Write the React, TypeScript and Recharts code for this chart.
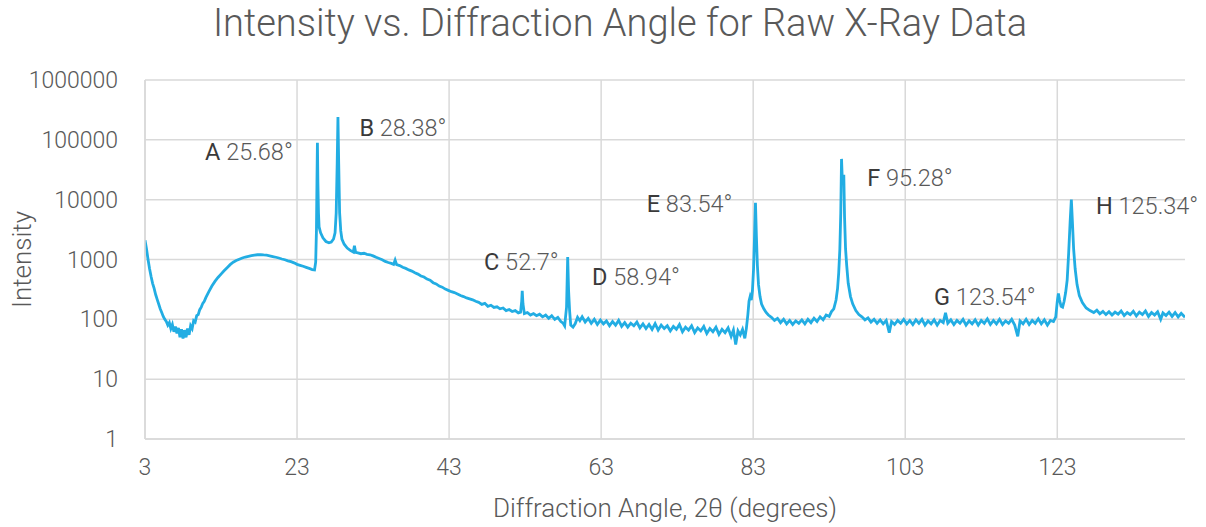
import { LineChart, Line, XAxis, YAxis, CartesianGrid, ReferenceDot } from 'recharts';

// 2θ (deg), counts
const lowAngle: [number, number][] = [
  [3.0, 2100], [3.2, 1500], [3.4, 1000], [3.6, 700], [3.8, 520], [4.0, 400], [4.2, 330], [4.4, 260],
  [4.6, 215], [4.8, 180], [5.0, 150], [5.2, 130], [5.4, 112], [5.6, 100], [5.8, 92], [6.0, 80],
  [6.2, 88], [6.4, 70], [6.6, 82], [6.8, 62], [7.0, 76], [7.2, 58], [7.4, 72], [7.6, 50],
  [7.8, 68], [8.0, 48], [8.2, 66], [8.4, 50], [8.6, 70], [8.8, 55], [9.0, 78], [9.2, 70],
  [9.4, 95], [9.6, 90], [9.8, 115], [10.0, 120], [10.2, 145], [10.4, 160], [10.6, 185], [10.8, 200],
  [11.0, 230], [11.4, 290], [11.8, 360], [12.2, 430], [12.6, 500], [13.0, 570], [13.4, 650], [13.8, 730],
  [14.2, 820], [14.6, 900], [15.0, 960], [15.4, 1010], [15.8, 1060], [16.2, 1100], [16.6, 1130], [17.0, 1160],
  [17.4, 1180], [17.8, 1200], [18.2, 1210], [18.6, 1190], [19.0, 1180], [19.4, 1150], [19.8, 1120], [20.2, 1090],
  [20.6, 1060], [21.0, 1020], [21.4, 990], [21.8, 950], [22.2, 920], [22.6, 880], [23.0, 830], [23.4, 800],
  [23.8, 770], [24.2, 740], [24.6, 710], [25.0, 680], [25.3, 670],
];

const peaksAB: [number, number][] = [
  [25.45, 900], [25.55, 3000], [25.62, 20000], [25.68, 89000], [25.74, 20000], [25.82, 6000],
  [25.9, 3500], [26.1, 2800], [26.4, 2300], [26.8, 2000], [27.2, 1900], [27.5, 1950], [27.8, 2200],
  [28.0, 2800], [28.15, 6000], [28.28, 40000], [28.38, 240000], [28.48, 40000], [28.6, 6000],
  [28.75, 3000], [28.9, 2200], [29.2, 1800], [29.6, 1550], [30.0, 1420], [30.4, 1330], [30.55, 1700],
  [30.7, 1320], [31.0, 1290],
];

const midRange: [number, number][] = [
  [31.4, 1250], [31.8, 1270], [32.2, 1220], [32.6, 1200], [33.0, 1150], [33.4, 1090], [33.8, 1040],
  [34.2, 990], [34.6, 930], [35.0, 890], [35.4, 860], [35.7, 830], [35.9, 980], [36.1, 820], [36.5, 790],
  [36.9, 740], [37.3, 710], [37.7, 670], [38.1, 640], [38.5, 600], [38.9, 570], [39.3, 530], [39.7, 510],
  [40.1, 470], [40.5, 450], [40.9, 410], [41.3, 390], [41.7, 360], [42.1, 345], [42.5, 320], [42.9, 305],
  [43.3, 290], [43.7, 280], [44.1, 265], [44.5, 250], [44.9, 240], [45.3, 228], [45.7, 220], [46.1, 212],
  [46.5, 200], [46.9, 192], [47.3, 178], [47.7, 185], [48.1, 165], [48.5, 172], [48.9, 158], [49.3, 162],
  [49.7, 150], [50.1, 155], [50.5, 140], [50.9, 146], [51.3, 135], [51.7, 140], [52.1, 128], [52.4, 132],
  [52.55, 200], [52.62, 300], [52.72, 180], [52.9, 125], [53.3, 130], [53.7, 118], [54.1, 125], [54.5, 115],
  [54.9, 122], [55.3, 110], [55.7, 118], [56.1, 104], [56.5, 115], [56.9, 100], [57.3, 108], [57.7, 92],
  [58.0, 86], [58.2, 78], [58.45, 160], [58.6, 1100], [58.72, 300], [58.85, 140], [59.0, 80], [59.3, 74],
  [59.6, 85], [59.9, 108], [60.2, 95], [60.5, 110], [60.9, 90], [61.3, 104], [61.7, 86], [62.1, 100],
  [62.5, 82], [62.9, 97], [63.3, 84], [63.7, 94], [64.1, 78], [64.5, 92], [64.9, 80], [65.3, 96],
  [65.7, 76], [66.1, 88], [66.5, 74], [66.9, 86], [67.3, 78], [67.7, 90], [68.1, 72], [68.5, 84],
  [68.9, 70], [69.3, 82], [69.7, 68], [70.1, 85], [70.5, 66], [70.9, 80], [71.3, 70], [71.7, 78],
  [72.1, 64], [72.5, 76], [72.9, 68], [73.3, 82], [73.7, 62], [74.1, 74], [74.5, 66], [74.9, 78],
  [75.3, 60], [75.7, 72], [76.1, 64], [76.5, 76], [76.9, 58], [77.3, 70], [77.7, 62], [78.1, 74],
  [78.5, 56], [78.9, 68], [79.3, 60], [79.7, 72], [80.1, 52], [80.4, 66], [80.7, 38], [81.0, 64],
  [81.3, 55], [81.6, 68], [81.9, 48], [82.1, 70],
];

const peaksEF: [number, number][] = [
  [82.3, 120], [82.45, 200], [82.6, 240], [82.75, 210], [82.9, 300], [83.05, 700], [83.18, 2500],
  [83.3, 8900], [83.42, 2500], [83.55, 800], [83.7, 380], [83.9, 240], [84.1, 180], [84.4, 150],
  [84.7, 130], [85.0, 118], [85.4, 108], [85.8, 96], [86.2, 104], [86.6, 88], [87.0, 100], [87.4, 84],
  [87.8, 96], [88.2, 82], [88.6, 94], [89.0, 86], [89.4, 98], [89.8, 84], [90.2, 100], [90.6, 88],
  [91.0, 104], [91.4, 92], [91.8, 110], [92.2, 98], [92.6, 118], [93.0, 112], [93.3, 135], [93.6, 150],
  [93.9, 210], [94.1, 330], [94.25, 600], [94.4, 1500], [94.52, 6000], [94.62, 48000], [94.72, 22000],
  [94.82, 20000], [94.92, 26000], [95.02, 5000], [95.15, 1500], [95.3, 800], [95.5, 400], [95.8, 240],
  [96.1, 180], [96.5, 140], [96.9, 120], [97.3, 110],
];

const highRange: [number, number][] = [
  [97.7, 98], [98.1, 106], [98.5, 90], [98.9, 100], [99.3, 86], [99.7, 98], [100.1, 84], [100.5, 96],
  [100.9, 60], [101.2, 92], [101.6, 82], [102.0, 96], [102.4, 86], [102.8, 100], [103.2, 84], [103.6, 96],
  [104.0, 82], [104.4, 98], [104.8, 86], [105.2, 100], [105.6, 80], [106.0, 94], [106.4, 84], [106.8, 98],
  [107.2, 80], [107.6, 96], [108.0, 88], [108.3, 128], [108.6, 86], [109.0, 98], [109.4, 82], [109.8, 96],
  [110.2, 86], [110.6, 100], [111.0, 80], [111.4, 94], [111.8, 84], [112.2, 98], [112.6, 80], [113.0, 96],
  [113.4, 86], [113.8, 102], [114.2, 82], [114.6, 96], [115.0, 84], [115.4, 100], [115.8, 82], [116.2, 94],
  [116.6, 86], [117.0, 100], [117.4, 80], [117.8, 52], [118.1, 94], [118.5, 84], [118.9, 100], [119.3, 82],
  [119.7, 96], [120.1, 86], [120.5, 102], [120.9, 84], [121.3, 98], [121.7, 80], [122.1, 96], [122.5, 92],
];

const peakH: [number, number][] = [
  [122.8, 110], [123.0, 200], [123.15, 270], [123.3, 210], [123.5, 165], [123.7, 160], [123.9, 200],
  [124.1, 280], [124.3, 450], [124.5, 1300], [124.7, 4500], [124.85, 10000], [125.0, 4000], [125.15, 1500],
  [125.35, 700], [125.6, 380], [125.9, 250], [126.3, 190], [126.8, 155], [127.3, 140], [127.8, 130],
  [128.2, 142], [128.6, 124], [129.0, 136], [129.4, 120], [129.8, 134], [130.2, 118], [130.6, 132],
  [131.0, 122], [131.4, 138], [131.8, 116], [132.2, 130], [132.6, 120], [133.0, 136], [133.4, 114],
  [133.8, 132], [134.2, 120], [134.6, 138], [135.0, 112], [135.4, 130], [135.8, 118], [136.2, 134],
  [136.6, 100], [136.9, 128], [137.3, 116], [137.7, 132], [138.1, 112], [138.5, 130], [138.9, 110],
  [139.3, 126], [139.8, 108],
];

// peak annotations: letter, text, label anchor (deg, counts)
const peakLetters = ['A', 'B', 'C', 'D', 'E', 'F', 'G', 'H'];
const peakAngles = ['25.68°', '28.38°', '52.7°', '58.94°', '83.54°', '95.28°', '123.54°', '125.34°'];
const labelAngles = [10.9, 31.2, 47.6, 61.8, 69.0, 98.0, 106.8, 128.1];
const labelCounts = [62000, 158000, 900, 510, 8400, 23000, 236, 7800];

const xTicks = [3, 23, 43, 63, 83, 103, 123];
const yTicks = [1, 10, 100, 1000, 10000, 100000, 1000000];

const data = [...lowAngle, ...peaksAB, ...midRange, ...peaksEF, ...highRange, ...peakH].map(([angle, counts]) => ({
  angle,
  counts,
}));

const FONT = 'Roboto, sans-serif';
const GREY = '#595959';

const PeakLabel = (props: any) => {
  const { cx, cy, letter, text } = props;
  if (cx == null || cy == null) return null;
  return (
    <text x={cx} y={cy} dy="0.35em" fontFamily={FONT} fontSize={23.5}>
      <tspan fill="#3a3a3a" fontWeight={400}>{letter}</tspan>
      <tspan fill={GREY} fontWeight={300}> {text}</tspan>
    </text>
  );
};

export default function App() {
  return (
    <div style={{ position: 'absolute', left: 0, top: 0, width: 1206, height: 527, background: '#fff' }}>
      <LineChart width={1206} height={527} data={data} margin={{ top: 80, right: 21, left: 45, bottom: 38 }}>
        <text x={620} y={26} textAnchor="middle" dominantBaseline="middle" fontFamily={FONT} fontSize={38} fontWeight={300} fill={GREY}>
          Intensity vs. Diffraction Angle for Raw X-Ray Data
        </text>
        <CartesianGrid stroke="#d9d9d9" strokeWidth={1.5} horizontalValues={yTicks} verticalValues={xTicks} />
        <XAxis
          dataKey="angle"
          type="number"
          domain={[3, 139.8]}
          ticks={xTicks}
          allowDataOverflow
          height={50}
          tickLine={false}
          axisLine={{ stroke: '#d9d9d9', strokeWidth: 1.5 }}
          tick={{ fill: GREY, fontSize: 23, fontFamily: FONT, fontWeight: 300 }}
          tickMargin={14}
          label={{ value: 'Diffraction Angle, 2θ (degrees)', position: 'insideBottom', offset: -28, fill: GREY, fontSize: 26, fontFamily: FONT, fontWeight: 300 }}
        />
        <YAxis
          dataKey="counts"
          scale="log"
          domain={[1, 1000000]}
          ticks={yTicks}
          allowDataOverflow
          width={100}
          tickLine={false}
          axisLine={{ stroke: '#d9d9d9', strokeWidth: 1.5 }}
          tick={{ fill: GREY, fontSize: 23, fontFamily: FONT, fontWeight: 300 }}
          tickMargin={21}
          label={{ value: 'Intensity', angle: -90, position: 'insideLeft', offset: -23, fill: GREY, fontSize: 26, fontFamily: FONT, fontWeight: 300, style: { textAnchor: 'middle' } }}
        />
        <Line
          dataKey="counts"
          type="linear"
          stroke="#22ade3"
          strokeWidth={2.8}
          dot={false}
          isAnimationActive={false}
        />
        {peakLetters.map((letter, i) => (
          <ReferenceDot
            key={letter}
            x={labelAngles[i]}
            y={labelCounts[i]}
            r={0}
            ifOverflow="visible"
            shape={(p: any) => <PeakLabel {...p} letter={letter} text={peakAngles[i]} />}
          />
        ))}
      </LineChart>
    </div>
  );
}
